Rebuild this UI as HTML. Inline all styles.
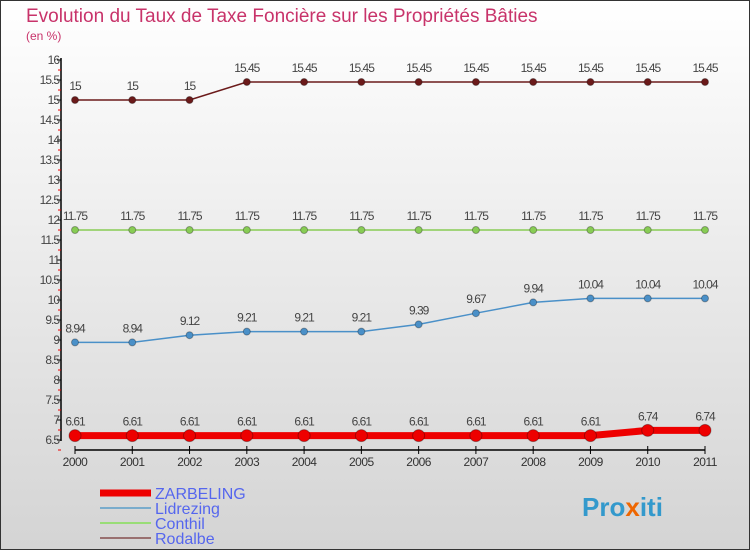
<!DOCTYPE html>
<html><head><meta charset="utf-8"><style>
html,body{margin:0;padding:0}
body{width:750px;height:550px;overflow:hidden;font-family:"Liberation Sans",sans-serif}
svg{display:block}
</style></head><body>
<svg width="750" height="550" xmlns="http://www.w3.org/2000/svg">
<defs><linearGradient id="bg" x1="0" y1="0" x2="0" y2="1"><stop offset="0" stop-color="#ffffff"/><stop offset="1" stop-color="#d4d4d4"/></linearGradient></defs>
<rect x="0.5" y="0.5" width="749" height="549" fill="url(#bg)" stroke="#333"/>
<text x="26" y="22" font-size="19" fill="#c8336a">Evolution du Taux de Taxe Foncière sur les Propriétés Bâties</text>
<text x="26" y="40" font-size="12" fill="#c8336a">(en %)</text>
<g id="axes"></g><g id="series"></g>
<g font-size="16">
<line x1="100" y1="493" x2="151" y2="493" stroke="#e00" stroke-width="7"/>
<text x="155" y="499" fill="#5566ee">ZARBELING</text>
<line x1="100" y1="508" x2="151" y2="508" stroke="#7aaccc" stroke-width="2"/>
<text x="155" y="514" fill="#5566ee">Lidrezing</text>
<line x1="100" y1="523" x2="151" y2="523" stroke="#99dd77" stroke-width="2"/>
<text x="155" y="529" fill="#5566ee">Conthil</text>
<line x1="100" y1="538" x2="151" y2="538" stroke="#997070" stroke-width="2"/>
<text x="155" y="544" fill="#5566ee">Rodalbe</text>
</g>
<text x="582" y="516" font-size="26" font-weight="bold" fill="#3399cc">Pro<tspan fill="#ee6600">x</tspan>iti</text>
</svg>
<script>
const years=[2000,2001,2002,2003,2004,2005,2006,2007,2008,2009,2010,2011];
const yTicks=[6.5,7,7.5,8,8.5,9,9.5,10,10.5,11,11.5,12,12.5,13,13.5,14,14.5,15,15.5,16];
const zarbeling=[6.61,6.61,6.61,6.61,6.61,6.61,6.61,6.61,6.61,6.61,6.74,6.74];
const lidrezing=[8.94,8.94,9.12,9.21,9.21,9.21,9.39,9.67,9.94,10.04,10.04,10.04];
const conthil=[11.75,11.75,11.75,11.75,11.75,11.75,11.75,11.75,11.75,11.75,11.75,11.75];
const rodalbe=[15,15,15,15.45,15.45,15.45,15.45,15.45,15.45,15.45,15.45,15.45];
const NS="http://www.w3.org/2000/svg";
const xS=i=>75+i*(630/11);
const yS=v=>440-(v-6.5)*40;
function mk(tag,attrs,parent){const e=document.createElementNS(NS,tag);for(const k in attrs)e.setAttribute(k,attrs[k]);parent.appendChild(e);return e;}
const axes=document.getElementById('axes');
let a=mk('line',{x1:61,y1:58,x2:61,y2:441,stroke:'#000','stroke-width':1.5},axes);


a=mk('line',{x1:75,y1:450,x2:705,y2:450,stroke:'#000','stroke-width':1.5},axes);


yTicks.forEach(v=>{const y=yS(v);
 const t=mk('line',{x1:57,y1:y,x2:61,y2:y,stroke:'#000'},axes);
 
 
 const m=mk('line',{x1:58,y1:y+10,x2:61,y2:y+10,stroke:'#e00'},axes);
 
 
 const l=mk('text',{x:59,y:y+4,'font-size':12,fill:'#444','text-anchor':'end','letter-spacing':'-1'},axes);
 l.textContent=String(v);
 
 
});
years.forEach((yr,i)=>{const x=xS(i);
 const t=mk('line',{x1:x,y1:446,x2:x,y2:454,stroke:'#000'},axes);
 
 
 const l=mk('text',{x:x,y:466,'font-size':12,fill:'#333','text-anchor':'middle','letter-spacing':'-0.5'},axes);
 l.textContent=yr;
 
 
});
const ser=document.getElementById('series');
function draw(name,vals,color,w,r,labelColor){
 const g=mk('g',{},ser);
 
 
 const p=mk('polyline',{points:vals.map((v,i)=>xS(i)+','+yS(v)).join(' '),fill:'none',stroke:color,'stroke-width':w},g);
 
 
 vals.forEach((v,i)=>{
  const c=mk('circle',{cx:xS(i),cy:yS(v),r:r,fill:color,stroke:'rgba(0,0,0,0.3)','stroke-width':1},g);
  
  
  const t=mk('text',{x:xS(i),y:yS(v)-10,'font-size':12,fill:'#444','text-anchor':'middle','letter-spacing':'-1'},g);
  t.textContent=String(v);
  
  
 });
}
draw('rodalbe',rodalbe,'#6b1a1a',1.5,3.5);
draw('conthil',conthil,'#88cc55',1.5,3.5);
draw('lidrezing',lidrezing,'#4a90c8',1.5,3.5);
draw('zarbeling',zarbeling,'#ee0000',7,6);
</script>
</body></html>
